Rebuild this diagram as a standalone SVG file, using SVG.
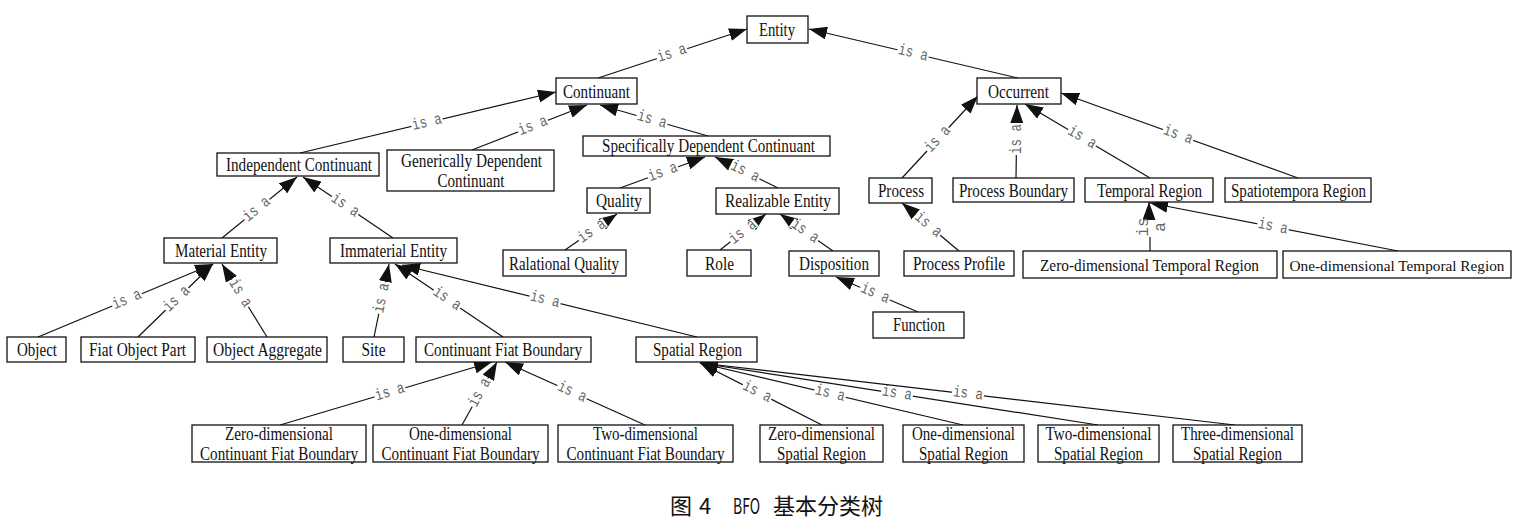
<svg xmlns="http://www.w3.org/2000/svg" width="1521" height="526" viewBox="0 0 1521 526">
<style>
.box{fill:#fff;stroke:#111;stroke-width:1.3}
.t{font-family:"Liberation Serif",serif;font-size:18px;fill:#111;text-anchor:middle}
.e{stroke:#111;stroke-width:1.2;fill:none;marker-end:url(#arr)}
.lb rect{fill:#fff}
.l{font-family:"Liberation Mono",monospace;font-size:16px;fill:#666;text-anchor:middle;dominant-baseline:central}
.cap{font-family:"Noto Sans CJK SC","Noto Sans",sans-serif;font-size:22px;fill:#111}
</style>
<defs>
<marker id="arr" markerUnits="userSpaceOnUse" markerWidth="18" markerHeight="13" refX="18" refY="6.5" orient="auto" viewBox="0 0 18 13">
<path d="M0,0 L18,6.5 L0,13 Z" fill="#111"/>
</marker>
</defs>
<g id="connectors">
<line class="e" x1="598" y1="78" x2="747" y2="29"/>
<line class="e" x1="1018" y1="78" x2="809" y2="29"/>
<line class="e" x1="300" y1="153" x2="556" y2="92"/>
<line class="e" x1="472" y1="150" x2="587" y2="105"/>
<line class="e" x1="708" y1="136" x2="600" y2="105"/>
<line class="e" x1="620" y1="188" x2="705" y2="157"/>
<line class="e" x1="778" y1="188" x2="715" y2="157"/>
<line class="e" x1="565" y1="250" x2="617" y2="214"/>
<line class="e" x1="720" y1="250" x2="766" y2="214"/>
<line class="e" x1="833" y1="251" x2="780" y2="214"/>
<line class="e" x1="918" y1="312" x2="836" y2="277"/>
<line class="e" x1="902" y1="178" x2="978" y2="96"/>
<line class="e" x1="1016" y1="178" x2="1017" y2="105"/>
<line class="e" x1="1150" y1="178" x2="1025" y2="104"/>
<line class="e" x1="1298" y1="178" x2="1061" y2="93"/>
<line class="e" x1="959" y1="251" x2="902" y2="203"/>
<path class="e" d="M1150,251 L1150,237 M1149,216 L1149,202"/>
<line class="e" x1="1398" y1="251" x2="1150" y2="203"/>
<line class="e" x1="222" y1="238" x2="297" y2="177"/>
<line class="e" x1="393" y1="238" x2="303" y2="177"/>
<line class="e" x1="38" y1="337" x2="213" y2="264"/>
<line class="e" x1="138" y1="337" x2="213" y2="264"/>
<line class="e" x1="267" y1="337" x2="222" y2="264"/>
<line class="e" x1="374" y1="337" x2="389" y2="264"/>
<line class="e" x1="503" y1="337" x2="395" y2="264"/>
<line class="e" x1="697" y1="337" x2="402" y2="265"/>
<line class="e" x1="280" y1="425" x2="492" y2="362"/>
<line class="e" x1="462" y1="425" x2="497" y2="362"/>
<line class="e" x1="645" y1="425" x2="505" y2="362"/>
<g class="lb" transform="translate(672,53.6) rotate(-18.2)"><rect x="-16" y="-5" width="32" height="10"/><text class="l" textLength="30" lengthAdjust="spacingAndGlyphs">is a</text></g>
<g class="lb" transform="translate(913,53.4) rotate(13.2)"><rect x="-16" y="-5" width="32" height="10"/><text class="l" textLength="30" lengthAdjust="spacingAndGlyphs">is a</text></g>
<g class="lb" transform="translate(427,122.7) rotate(-13.4)"><rect x="-16" y="-5" width="32" height="10"/><text class="l" textLength="30" lengthAdjust="spacingAndGlyphs">is a</text></g>
<g class="lb" transform="translate(533,126.1) rotate(-21.4)"><rect x="-16" y="-5" width="32" height="10"/><text class="l" textLength="30" lengthAdjust="spacingAndGlyphs">is a</text></g>
<g class="lb" transform="translate(652,119.9) rotate(16)"><rect x="-16" y="-5" width="32" height="10"/><text class="l" textLength="30" lengthAdjust="spacingAndGlyphs">is a</text></g>
<g class="lb" transform="translate(663,172.3) rotate(-20)"><rect x="-16" y="-5" width="32" height="10"/><text class="l" textLength="30" lengthAdjust="spacingAndGlyphs">is a</text></g>
<g class="lb" transform="translate(745,171.8) rotate(26.2)"><rect x="-16" y="-5" width="32" height="10"/><text class="l" textLength="30" lengthAdjust="spacingAndGlyphs">is a</text></g>
<g class="lb" transform="translate(592,231.3) rotate(-34.7)"><rect x="-16" y="-5" width="32" height="10"/><text class="l" textLength="30" lengthAdjust="spacingAndGlyphs">is a</text></g>
<g class="lb" transform="translate(743,232) rotate(-38)"><rect x="-16" y="-5" width="32" height="10"/><text class="l" textLength="30" lengthAdjust="spacingAndGlyphs">is a</text></g>
<g class="lb" transform="translate(805,231.5) rotate(34.9)"><rect x="-16" y="-5" width="32" height="10"/><text class="l" textLength="30" lengthAdjust="spacingAndGlyphs">is a</text></g>
<g class="lb" transform="translate(875,293.6) rotate(23.1)"><rect x="-16" y="-5" width="32" height="10"/><text class="l" textLength="30" lengthAdjust="spacingAndGlyphs">is a</text></g>
<g class="lb" transform="translate(938,139.4) rotate(-47.2)"><rect x="-16" y="-5" width="32" height="10"/><text class="l" textLength="30" lengthAdjust="spacingAndGlyphs">is a</text></g>
<g class="lb" transform="translate(1016.5,139) rotate(-90)"><rect x="-16" y="-5" width="32" height="10"/><text class="l" textLength="30" lengthAdjust="spacingAndGlyphs">is a</text></g>
<g class="lb" transform="translate(1082,137.7) rotate(30.6)"><rect x="-16" y="-5" width="32" height="10"/><text class="l" textLength="30" lengthAdjust="spacingAndGlyphs">is a</text></g>
<g class="lb" transform="translate(1178,135) rotate(19.7)"><rect x="-16" y="-5" width="32" height="10"/><text class="l" textLength="30" lengthAdjust="spacingAndGlyphs">is a</text></g>
<g class="lb" transform="translate(928,224.9) rotate(40.1)"><rect x="-16" y="-5" width="32" height="10"/><text class="l" textLength="30" lengthAdjust="spacingAndGlyphs">is a</text></g>
<g class="lb" transform="translate(1150,227) rotate(-90)"><text class="l" style="dominant-baseline:auto"><tspan x="0" y="-2">is</tspan><tspan x="0" y="15">a</tspan></text></g>
<g class="lb" transform="translate(1273,226.8) rotate(11)"><rect x="-16" y="-5" width="32" height="10"/><text class="l" textLength="30" lengthAdjust="spacingAndGlyphs">is a</text></g>
<g class="lb" transform="translate(257,209.5) rotate(-39.1)"><rect x="-16" y="-5" width="32" height="10"/><text class="l" textLength="30" lengthAdjust="spacingAndGlyphs">is a</text></g>
<g class="lb" transform="translate(345,205.5) rotate(34.1)"><rect x="-16" y="-5" width="32" height="10"/><text class="l" textLength="30" lengthAdjust="spacingAndGlyphs">is a</text></g>
<g class="lb" transform="translate(127,299.8) rotate(-22.6)"><rect x="-16" y="-5" width="32" height="10"/><text class="l" textLength="30" lengthAdjust="spacingAndGlyphs">is a</text></g>
<g class="lb" transform="translate(177,299) rotate(-44.2)"><rect x="-16" y="-5" width="32" height="10"/><text class="l" textLength="30" lengthAdjust="spacingAndGlyphs">is a</text></g>
<g class="lb" transform="translate(240,293.2) rotate(58.4)"><rect x="-16" y="-5" width="32" height="10"/><text class="l" textLength="30" lengthAdjust="spacingAndGlyphs">is a</text></g>
<g class="lb" transform="translate(382,298) rotate(-78.4)"><rect x="-16" y="-5" width="32" height="10"/><text class="l" textLength="30" lengthAdjust="spacingAndGlyphs">is a</text></g>
<g class="lb" transform="translate(447,299) rotate(34)"><rect x="-16" y="-5" width="32" height="10"/><text class="l" textLength="30" lengthAdjust="spacingAndGlyphs">is a</text></g>
<g class="lb" transform="translate(545,299.9) rotate(13.7)"><rect x="-16" y="-5" width="32" height="10"/><text class="l" textLength="30" lengthAdjust="spacingAndGlyphs">is a</text></g>
<g class="lb" transform="translate(390,392.3) rotate(-16.6)"><rect x="-16" y="-5" width="32" height="10"/><text class="l" textLength="30" lengthAdjust="spacingAndGlyphs">is a</text></g>
<g class="lb" transform="translate(480,392.6) rotate(-60.9)"><rect x="-16" y="-5" width="32" height="10"/><text class="l" textLength="30" lengthAdjust="spacingAndGlyphs">is a</text></g>
<g class="lb" transform="translate(572,392.2) rotate(24.2)"><rect x="-16" y="-5" width="32" height="10"/><text class="l" textLength="30" lengthAdjust="spacingAndGlyphs">is a</text></g>
<line class="e" x1="822" y1="425" x2="700" y2="363"/>
<g class="lb" transform="translate(757,392) rotate(26.9)"><rect x="-16" y="-5" width="32" height="10"/><text class="l" textLength="30" lengthAdjust="spacingAndGlyphs">is a</text></g>
<line class="e" x1="963" y1="425" x2="700" y2="363"/>
<g class="lb" transform="translate(830,393.6) rotate(13.3)"><rect x="-16" y="-5" width="32" height="10"/><text class="l" textLength="30" lengthAdjust="spacingAndGlyphs">is a</text></g>
<line class="e" x1="1098" y1="425" x2="700" y2="363"/>
<g class="lb" transform="translate(897,393.7) rotate(8.85)"><rect x="-16" y="-5" width="32" height="10"/><text class="l" textLength="30" lengthAdjust="spacingAndGlyphs">is a</text></g>
<line class="e" x1="1235" y1="425" x2="700" y2="363"/>
<g class="lb" transform="translate(968,394) rotate(6.6)"><rect x="-16" y="-5" width="32" height="10"/><text class="l" textLength="30" lengthAdjust="spacingAndGlyphs">is a</text></g>
</g>
<g id="n-entity"><rect class="box" x="747" y="16" width="61" height="27"/><text class="t" x="777" y="35.5" textLength="36" lengthAdjust="spacingAndGlyphs">Entity</text></g>
<g id="n-continuant"><rect class="box" x="556" y="78" width="81" height="26"/><text class="t" x="596.5" y="97.5" textLength="67" lengthAdjust="spacingAndGlyphs">Continuant</text></g>
<g id="n-occurrent"><rect class="box" x="977" y="78" width="84" height="26"/><text class="t" x="1018.5" y="97.5" textLength="61" lengthAdjust="spacingAndGlyphs">Occurrent</text></g>
<g id="n-ic"><rect class="box" x="217" y="153" width="162" height="23"/><text class="t" x="299" y="170.5" textLength="146" lengthAdjust="spacingAndGlyphs">Independent Continuant</text></g>
<g id="n-gdc"><rect class="box" x="387" y="150" width="167" height="41"/><text class="t" x="471.5" y="167" textLength="141" lengthAdjust="spacingAndGlyphs">Generically Dependent</text><text class="t" x="471" y="187" textLength="67" lengthAdjust="spacingAndGlyphs">Continuant</text></g>
<g id="n-sdc"><rect class="box" x="583" y="136" width="247" height="20"/><text class="t" x="708.5" y="152" textLength="213" lengthAdjust="spacingAndGlyphs">Specifically Dependent Continuant</text></g>
<g id="n-quality"><rect class="box" x="587" y="188" width="63" height="25"/><text class="t" x="619" y="207" textLength="46" lengthAdjust="spacingAndGlyphs">Quality</text></g>
<g id="n-re"><rect class="box" x="716" y="188" width="123" height="26"/><text class="t" x="778" y="207" textLength="106" lengthAdjust="spacingAndGlyphs">Realizable Entity</text></g>
<g id="n-rq"><rect class="box" x="503" y="250" width="123" height="26"/><text class="t" x="564" y="269.5" textLength="110" lengthAdjust="spacingAndGlyphs">Ralational Quality</text></g>
<g id="n-role"><rect class="box" x="687" y="250" width="64" height="26"/><text class="t" x="719.5" y="269.5" textLength="29" lengthAdjust="spacingAndGlyphs">Role</text></g>
<g id="n-disposition"><rect class="box" x="789" y="251" width="90" height="25"/><text class="t" x="834" y="269.5" textLength="70" lengthAdjust="spacingAndGlyphs">Disposition</text></g>
<g id="n-function"><rect class="box" x="873" y="312" width="91" height="26"/><text class="t" x="919" y="331" textLength="52" lengthAdjust="spacingAndGlyphs">Function</text></g>
<g id="n-process"><rect class="box" x="869" y="178" width="63" height="25"/><text class="t" x="901" y="196.5" textLength="46" lengthAdjust="spacingAndGlyphs">Process</text></g>
<g id="n-pb"><rect class="box" x="953" y="178" width="121" height="24"/><text class="t" x="1013.5" y="196.5" textLength="109" lengthAdjust="spacingAndGlyphs">Process Boundary</text></g>
<g id="n-tr"><rect class="box" x="1085" y="178" width="128" height="24"/><text class="t" x="1149.5" y="196.5" textLength="105" lengthAdjust="spacingAndGlyphs">Temporal Region</text></g>
<g id="n-str"><rect class="box" x="1225" y="178" width="146" height="24"/><text class="t" x="1298.5" y="196.5" textLength="135" lengthAdjust="spacingAndGlyphs">Spatiotempora Region</text></g>
<g id="n-pp"><rect class="box" x="904" y="251" width="110" height="25"/><text class="t" x="959" y="269.5" textLength="92" lengthAdjust="spacingAndGlyphs">Process Profile</text></g>
<g id="n-ztr"><rect class="box" x="1023" y="251" width="254" height="27"/><text class="t" x="1149.5" y="270.5" style="font-size:17px" textLength="219" lengthAdjust="spacingAndGlyphs">Zero-dimensional Temporal Region</text></g>
<g id="n-otr"><rect class="box" x="1283" y="251" width="228" height="27"/><text class="t" x="1397" y="270.5" style="font-size:15.5px" textLength="215" lengthAdjust="spacingAndGlyphs">One-dimensional Temporal Region</text></g>
<g id="n-me"><rect class="box" x="164" y="238" width="113" height="25"/><text class="t" x="221" y="256.5" textLength="92" lengthAdjust="spacingAndGlyphs">Material Entity</text></g>
<g id="n-ie"><rect class="box" x="330" y="238" width="127" height="25"/><text class="t" x="393.5" y="256.5" textLength="107" lengthAdjust="spacingAndGlyphs">Immaterial Entity</text></g>
<g id="n-object"><rect class="box" x="7" y="337" width="59" height="25"/><text class="t" x="37" y="355.5" textLength="40" lengthAdjust="spacingAndGlyphs">Object</text></g>
<g id="n-fop"><rect class="box" x="81" y="337" width="114" height="25"/><text class="t" x="137.5" y="355.5" textLength="97" lengthAdjust="spacingAndGlyphs">Fiat Object Part</text></g>
<g id="n-oa"><rect class="box" x="207" y="337" width="120" height="25"/><text class="t" x="267.5" y="355.5" textLength="109" lengthAdjust="spacingAndGlyphs">Object Aggregate</text></g>
<g id="n-site"><rect class="box" x="343" y="337" width="61" height="25"/><text class="t" x="373.5" y="355.5" textLength="24" lengthAdjust="spacingAndGlyphs">Site</text></g>
<g id="n-cfb"><rect class="box" x="416" y="337" width="175" height="25"/><text class="t" x="503" y="355.5" textLength="158" lengthAdjust="spacingAndGlyphs">Continuant Fiat Boundary</text></g>
<g id="n-sr"><rect class="box" x="636" y="337" width="121" height="25"/><text class="t" x="697.5" y="355.5" textLength="89" lengthAdjust="spacingAndGlyphs">Spatial Region</text></g>
<g id="n-zcfb"><rect class="box" x="192" y="425" width="174" height="37"/><text class="t" x="279" y="439.5" textLength="108" lengthAdjust="spacingAndGlyphs">Zero-dimensional</text><text class="t" x="279" y="460" textLength="158" lengthAdjust="spacingAndGlyphs">Continuant Fiat Boundary</text></g>
<g id="n-ocfb"><rect class="box" x="373" y="425" width="175" height="37"/><text class="t" x="460.5" y="439.5" textLength="103" lengthAdjust="spacingAndGlyphs">One-dimensional</text><text class="t" x="460.5" y="460" textLength="158" lengthAdjust="spacingAndGlyphs">Continuant Fiat Boundary</text></g>
<g id="n-tcfb"><rect class="box" x="558" y="425" width="175" height="37"/><text class="t" x="645.5" y="439.5" textLength="105" lengthAdjust="spacingAndGlyphs">Two-dimensional</text><text class="t" x="645.5" y="460" textLength="158" lengthAdjust="spacingAndGlyphs">Continuant Fiat Boundary</text></g>
<g id="n-zsr"><rect class="box" x="760" y="425" width="123" height="37"/><text class="t" x="821.5" y="439.5" textLength="107" lengthAdjust="spacingAndGlyphs">Zero-dimensional</text><text class="t" x="821.5" y="460" textLength="89" lengthAdjust="spacingAndGlyphs">Spatial Region</text></g>
<g id="n-osr"><rect class="box" x="903" y="425" width="121" height="37"/><text class="t" x="963.5" y="439.5" textLength="103" lengthAdjust="spacingAndGlyphs">One-dimensional</text><text class="t" x="963.5" y="460" textLength="89" lengthAdjust="spacingAndGlyphs">Spatial Region</text></g>
<g id="n-tsr"><rect class="box" x="1038" y="425" width="121" height="37"/><text class="t" x="1098.5" y="439.5" textLength="106" lengthAdjust="spacingAndGlyphs">Two-dimensional</text><text class="t" x="1098.5" y="460" textLength="89" lengthAdjust="spacingAndGlyphs">Spatial Region</text></g>
<g id="n-thsr"><rect class="box" x="1173" y="425" width="129" height="37"/><text class="t" x="1237.5" y="439.5" textLength="113" lengthAdjust="spacingAndGlyphs">Three-dimensional</text><text class="t" x="1237.5" y="460" textLength="89" lengthAdjust="spacingAndGlyphs">Spatial Region</text></g>
<text class="cap" y="514"><tspan x="670">图</tspan><tspan x="699">4</tspan><tspan x="733" textLength="27" lengthAdjust="spacingAndGlyphs">BFO</tspan><tspan x="773">基本分类树</tspan></text>
</svg>
